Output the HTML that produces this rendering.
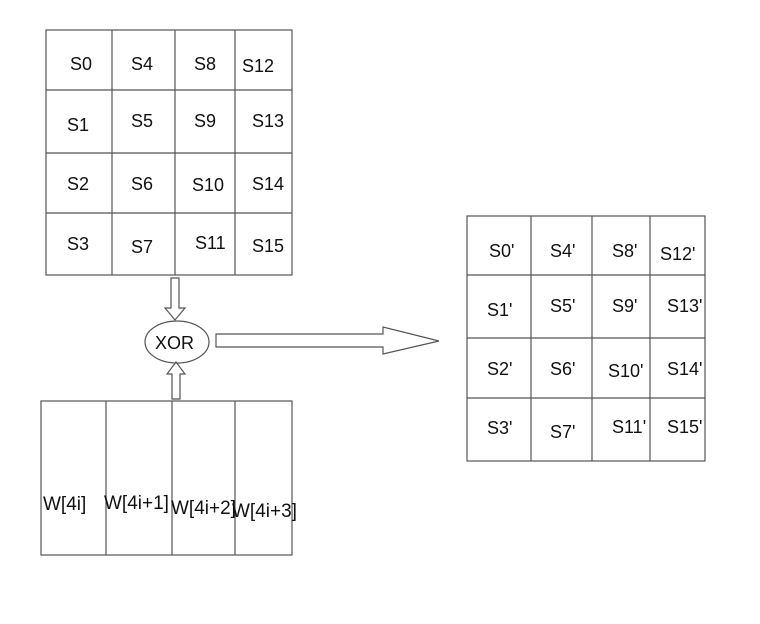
<!DOCTYPE html>
<html><head><style>body{margin:0;background:#fff}svg{display:block}</style></head><body>
<svg width="760" height="624" viewBox="0 0 760 624" xmlns="http://www.w3.org/2000/svg" font-family="Liberation Sans, sans-serif" font-size="18" fill="#111">
<g stroke="#555" stroke-width="1.2" fill="none">
<rect x="46" y="30" width="246" height="245"/>
<line x1="112" y1="30" x2="112" y2="275"/><line x1="175" y1="30" x2="175" y2="275"/><line x1="235" y1="30" x2="235" y2="275"/>
<line x1="46" y1="90" x2="292" y2="90"/><line x1="46" y1="153" x2="292" y2="153"/><line x1="46" y1="213" x2="292" y2="213"/>
<rect x="467" y="216" width="238" height="245"/>
<line x1="531" y1="216" x2="531" y2="461"/><line x1="592" y1="216" x2="592" y2="461"/><line x1="650" y1="216" x2="650" y2="461"/>
<line x1="467" y1="275" x2="705" y2="275"/><line x1="467" y1="338" x2="705" y2="338"/><line x1="467" y1="398" x2="705" y2="398"/>
<rect x="41" y="401" width="251" height="154"/>
<line x1="106" y1="401" x2="106" y2="555"/><line x1="172" y1="401" x2="172" y2="555"/><line x1="235" y1="401" x2="235" y2="555"/>
<polygon points="171,278 179,278 179,308 185,308 175,320 165,308 171,308"/>
<polygon points="172,399 180,399 180,374 185,374 176,362 167,374 172,374"/>
<ellipse cx="177" cy="342" rx="32" ry="21"/>
<polygon points="216,334 383,334 383,327 439,341 383,354 383,347 216,347"/>
</g>
<g>
<text x="70" y="70">S0</text><text x="131" y="70">S4</text><text x="194" y="70">S8</text><text x="242" y="72">S12</text>
<text x="67" y="131">S1</text><text x="131" y="127">S5</text><text x="194" y="127">S9</text><text x="252" y="127">S13</text>
<text x="67" y="190">S2</text><text x="131" y="190">S6</text><text x="192" y="191">S10</text><text x="252" y="190">S14</text>
<text x="67" y="250">S3</text><text x="131" y="253">S7</text><text x="195" y="249">S11</text><text x="252" y="252">S15</text>
<text x="489" y="257">S0'</text><text x="550" y="257">S4'</text><text x="612" y="257">S8'</text><text x="660" y="260">S12'</text>
<text x="487" y="316">S1'</text><text x="550" y="312">S5'</text><text x="612" y="312">S9'</text><text x="667" y="312">S13'</text>
<text x="487" y="375">S2'</text><text x="550" y="375">S6'</text><text x="608" y="377">S10'</text><text x="667" y="375">S14'</text>
<text x="487" y="434">S3'</text><text x="550" y="438">S7'</text><text x="612" y="433">S11'</text><text x="667" y="433">S15'</text>
<text x="155" y="349">XOR</text>
<g font-size="19">
<text x="43" y="510">W[4i]</text><text x="104" y="509">W[4i+1]</text><text x="171" y="514">W[4i+2]</text><text x="232" y="517">W[4i+3]</text>
</g>
</g>
</svg>
</body></html>
